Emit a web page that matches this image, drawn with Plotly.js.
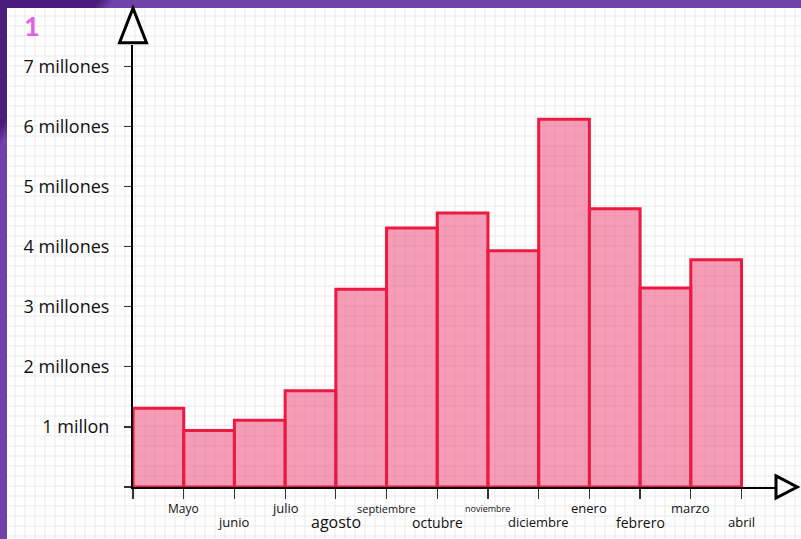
<!DOCTYPE html>
<html>
<head>
<meta charset="utf-8">
<script src="https://cdn.plot.ly/plotly-3.0.1.min.js"></script>
<style>
  html, body { margin: 0; padding: 0; }
  #frame { position: relative; width: 801px; height: 539px; overflow: hidden;
    background: linear-gradient(128deg, #4b1c7b 0px, #4b1c7b 78px, #7142a9 90px, #7142a9 100%); }
  #paper { position: absolute; left: 7px; top: 8px; right: 0; bottom: 0; background-color: #ffffff;
    background-image: linear-gradient(to right, #e8e8e8 0, #e8e8e8 1.5px, transparent 1.5px),
                      linear-gradient(to bottom, #e8e8e8 0, #e8e8e8 1.5px, transparent 1.5px);
    background-size: 10px 10px; background-position: 7.5px 7.5px; }
  #chart { position: absolute; left: 0; top: 0; width: 801px; height: 539px; }
</style>
</head>
<body>
<div id="frame"><div id="paper"></div><div id="chart"></div></div>
<script>
// ---- data ----
const months = ['Mayo', 'junio', 'julio', 'agosto', 'septiembre', 'octubre', 'noviembre', 'diciembre', 'enero', 'febrero', 'marzo', 'abril'];
const values = [1310000, 940000, 1110000, 1600000, 3290000, 4310000, 4560000, 3930000, 6120000, 4630000, 3310000, 3780000];
const yTickValues = [1000000, 2000000, 3000000, 4000000, 5000000, 6000000, 7000000];
const yTickLabels = ['1 millon', '2 millones', '3 millones', '4 millones', '5 millones', '6 millones', '7 millones'];
const panelLabel = '1';

// ---- styles (not data) ----
const labelSizes = [12, 13, 13, 16, 11, 14, 9, 13, 13, 14, 13, 13];
const FONT = 'Open Sans, Lato, sans-serif';

const xCenters = months.map((m, i) => i + 0.5);
const xBounds = months.map((m, i) => i + 1);

const trace = {
  type: 'bar',
  x: xCenters,
  y: values,
  width: 1,
  marker: { color: 'rgba(238,92,135,0.6)', line: { color: '#ec1a40', width: 3 } },
  hoverinfo: 'skip'
};

const annotations = months.map((m, i) => ({
  x: xBounds[i], y: 0, xref: 'x', yref: 'y',
  text: m, showarrow: false,
  xanchor: 'center', yanchor: 'middle',
  yshift: i % 2 === 0 ? -21 : -35,
  font: { family: FONT, size: labelSizes[i], color: '#111' }
}));
annotations.push({
  x: -0.157, y: 1.043, xref: 'paper', yref: 'paper',
  text: '<b>' + panelLabel + '</b>', showarrow: false,
  xanchor: 'center', yanchor: 'middle',
  font: { family: 'Lato, sans-serif', size: 27, color: '#e062e4' }
});

const layout = {
  width: 801, height: 539,
  margin: { l: 133, r: 25, t: 45, b: 52 },
  paper_bgcolor: 'rgba(0,0,0,0)',
  plot_bgcolor: 'rgba(0,0,0,0)',
  showlegend: false,
  bargap: 0,
  xaxis: {
    range: [0, 12.68], showgrid: false, zeroline: false,
    showline: true, linecolor: '#000', linewidth: 2,
    tickmode: 'array', tickvals: [0].concat(xBounds), ticktext: [0].concat(xBounds).map(() => ''),
    ticks: 'outside', ticklen: 10, tickwidth: 1.2, tickcolor: '#333',
    fixedrange: true
  },
  yaxis: {
    range: [0, 7354000], showgrid: false, zeroline: false,
    showline: true, linecolor: '#000', linewidth: 2,
    tickmode: 'array', tickvals: [0].concat(yTickValues), ticktext: [''].concat(yTickLabels),
    ticks: 'outside', ticklen: 7, tickwidth: 1.2, tickcolor: '#333',
    ticklabelstandoff: 11,
    tickfont: { family: FONT, size: 18, color: '#111' },
    fixedrange: true
  },
  annotations: annotations,
  shapes: [
    { type: 'path', xref: 'paper', yref: 'paper',
      path: 'M -0.021 1.005 L 0.0 1.0835 L 0.021 1.005 Z',
      line: { color: '#000', width: 3 }, fillcolor: 'rgba(0,0,0,0)' },
    { type: 'path', xref: 'paper', yref: 'paper',
      path: 'M 1.0 0.025 L 1.033 0.0 L 1.0 -0.025 Z',
      line: { color: '#000', width: 3 }, fillcolor: 'rgba(0,0,0,0)' }
  ]
};

Plotly.newPlot('chart', [trace], layout, { staticPlot: true, displayModeBar: false });
</script>
</body>
</html>
